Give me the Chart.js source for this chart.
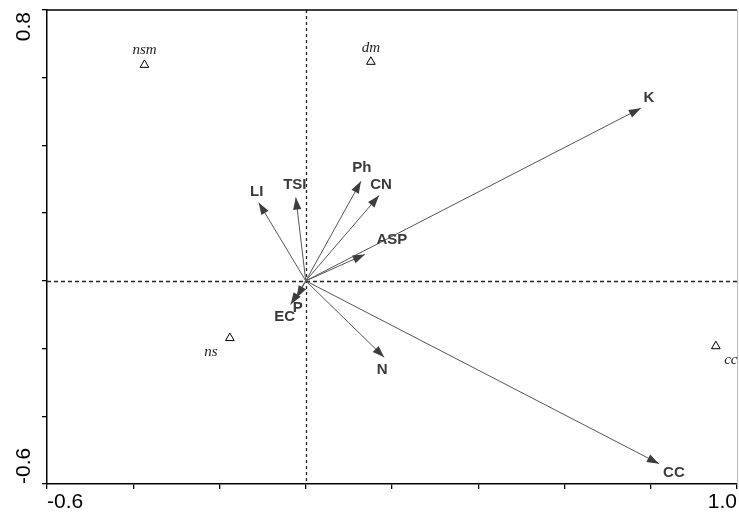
<!DOCTYPE html>
<html>
<head>
<meta charset="utf-8">
<script src="https://cdn.jsdelivr.net/npm/chart.js@4"></script>
<style>
  html, body { margin: 0; padding: 0; background: #fff; }
  #wrap { width: 739px; height: 514px; }
</style>
</head>
<body>
<div id="wrap"><canvas id="c" width="739" height="514"></canvas></div>
<script>
// ---- data ----
const xRange = [-0.6, 1.0];
const yRange = [-0.6, 0.8];
const tickStep = 0.2;
const xTickLabels = ['-0.6', '1.0'];
const yTickLabels = ['-0.6', '0.8'];

const siteNames = ['nsm', 'dm', 'ns', 'cc'];
const siteX = [-0.374, 0.151, -0.176, 0.951];
const siteY = [0.638, 0.647, -0.169, -0.193];

const vectorNames = ['K', 'CC', 'N', 'ASP', 'Ph', 'CN', 'TSI', 'LI', 'P', 'EC'];
const vectorX = [0.777, 0.819, 0.182, 0.137, 0.128, 0.170, -0.023, -0.109, -0.021, -0.035];
const vectorY = [0.510, -0.540, -0.226, 0.078, 0.294, 0.252, 0.246, 0.231, -0.050, -0.070];

// ---- label placement (pixel offsets from the mark) ----
const siteLabelOffset = {
  nsm: [0, -15], dm: [0, -14], ns: [-19, 14], cc: [15, 14]
};
const vectorLabelOffset = {
  K: [8, -10], CC: [15, 9], N: [-2, 12], ASP: [27, -15], Ph: [1, -13],
  CN: [2, -11], TSI: [-1, -13], LI: [-2, -11], P: [1, 10], EC: [-6, 12]
};

const datasets = [];
vectorNames.forEach((n, i) => {
  datasets.push({
    type: 'scatter',
    label: n,
    data: [{ x: 0, y: 0 }, { x: vectorX[i], y: vectorY[i] }],
    showLine: true,
    borderColor: '#555',
    borderWidth: 1,
    pointRadius: 0,
    pointHoverRadius: 0,
    fill: false
  });
});
datasets.push({
  type: 'scatter',
  label: 'sites',
  data: siteX.map((x, i) => ({ x: x, y: siteY[i] })),
  pointStyle: 'triangle',
  pointRadius: 5,
  pointBorderColor: '#000',
  pointBackgroundColor: '#fff',
  pointBorderWidth: 1
});

const decorPlugin = {
  id: 'decor',
  beforeDatasetsDraw(chart) {
    const { ctx, chartArea: a, scales: { x, y } } = chart;
    ctx.save();
    ctx.strokeStyle = '#222';
    ctx.lineWidth = 1.3;
    // zero lines
    ctx.setLineDash([3, 3]);
    const x0 = Math.round(x.getPixelForValue(0)) + 0.5;
    ctx.beginPath(); ctx.moveTo(x0, a.top); ctx.lineTo(x0, a.bottom); ctx.stroke();
    ctx.setLineDash([4, 3]);
    const y0 = Math.round(y.getPixelForValue(0)) + 0.5;
    ctx.beginPath(); ctx.moveTo(a.left, y0); ctx.lineTo(a.right, y0); ctx.stroke();
    ctx.setLineDash([]);
    // frame top / right
    ctx.strokeStyle = '#000';
    ctx.lineWidth = 1.5;
    ctx.beginPath(); ctx.moveTo(a.left, a.top); ctx.lineTo(a.right, a.top); ctx.stroke();
    ctx.strokeStyle = '#bbb';
    ctx.lineWidth = 1;
    ctx.beginPath(); ctx.moveTo(a.right + 0.5, a.top); ctx.lineTo(a.right + 0.5, a.bottom); ctx.stroke();
    ctx.restore();
  },
  afterDatasetsDraw(chart) {
    const { ctx, scales: { x, y } } = chart;
    ctx.save();
    // arrowheads + vector labels
    vectorNames.forEach((n, i) => {
      const px = x.getPixelForValue(vectorX[i]);
      const py = y.getPixelForValue(vectorY[i]);
      const ox = x.getPixelForValue(0);
      const oy = y.getPixelForValue(0);
      const ang = Math.atan2(py - oy, px - ox);
      const L = 12, W = 4.2;
      ctx.fillStyle = '#3d3d3d';
      ctx.beginPath();
      ctx.moveTo(px, py);
      ctx.lineTo(px - L * Math.cos(ang) + W * Math.sin(ang), py - L * Math.sin(ang) - W * Math.cos(ang));
      ctx.lineTo(px - L * Math.cos(ang) - W * Math.sin(ang), py - L * Math.sin(ang) + W * Math.cos(ang));
      ctx.closePath();
      ctx.fill();
      const off = vectorLabelOffset[n];
      ctx.font = 'bold 15px "Liberation Sans", Arial, sans-serif';
      ctx.fillStyle = '#3a3a3a';
      ctx.textAlign = 'center';
      ctx.textBaseline = 'middle';
      ctx.fillText(n, px + off[0], py + off[1]);
    });
    // site labels
    siteNames.forEach((n, i) => {
      const px = x.getPixelForValue(siteX[i]);
      const py = y.getPixelForValue(siteY[i]);
      const off = siteLabelOffset[n];
      ctx.font = 'italic 15px "Liberation Serif", "Times New Roman", serif';
      ctx.fillStyle = '#222';
      ctx.textAlign = 'center';
      ctx.textBaseline = 'middle';
      ctx.fillText(n, px + off[0], py + off[1]);
    });
    ctx.restore();
  },
  afterDraw(chart) {
    const { ctx, scales: { y } } = chart;
    ctx.save();
    ctx.font = '21px "Liberation Sans", Arial, sans-serif';
    ctx.fillStyle = '#000';
    ctx.textBaseline = 'middle';
    const vals = [yRange[0], yRange[1]];
    vals.forEach((v, k) => {
      const py = y.getPixelForValue(v);
      ctx.save();
      ctx.translate(24, k === 0 ? py : py + 2);
      ctx.rotate(-Math.PI / 2);
      ctx.textAlign = k === 0 ? 'left' : 'right';
      ctx.fillText(yTickLabels[k], 0, 0);
      ctx.restore();
    });
    ctx.restore();
  }
};

new Chart(document.getElementById('c'), {
  type: 'scatter',
  data: { datasets: datasets },
  options: {
    responsive: false,
    animation: false,
    devicePixelRatio: 1,
    layout: { autoPadding: false, padding: { top: 10, right: 2, left: 0, bottom: 0 } },
    plugins: { legend: { display: false }, tooltip: { enabled: false } },
    scales: {
      x: {
        type: 'linear',
        min: xRange[0], max: xRange[1],
        afterFit(s) { s.height = 30; s.paddingLeft = 0; s.paddingRight = 0; },
        ticks: {
          stepSize: tickStep,
          align: 'inner',
          maxRotation: 0, minRotation: 0,
          autoSkip: false,
          padding: 1,
          color: '#000',
          font: { family: '"Liberation Sans", Arial, sans-serif', size: 21 },
          callback: (v, i, t) => i === 0 ? xTickLabels[0] : (i === t.length - 1 ? xTickLabels[1] : '')
        },
        grid: { drawOnChartArea: false, drawTicks: true, tickLength: 5, color: '#000', lineWidth: 1.3 },
        border: { display: true, color: '#000', width: 1.5 }
      },
      y: {
        type: 'linear',
        min: yRange[0], max: yRange[1],
        afterFit(s) { s.width = 47; s.paddingTop = 0; s.paddingBottom = 0; },
        ticks: { stepSize: tickStep, display: false, autoSkip: false },
        grid: { drawOnChartArea: false, drawTicks: true, tickLength: 5, color: '#000', lineWidth: 1.3 },
        border: { display: true, color: '#000', width: 1.5 }
      }
    }
  },
  plugins: [decorPlugin]
});
</script>
</body>
</html>
